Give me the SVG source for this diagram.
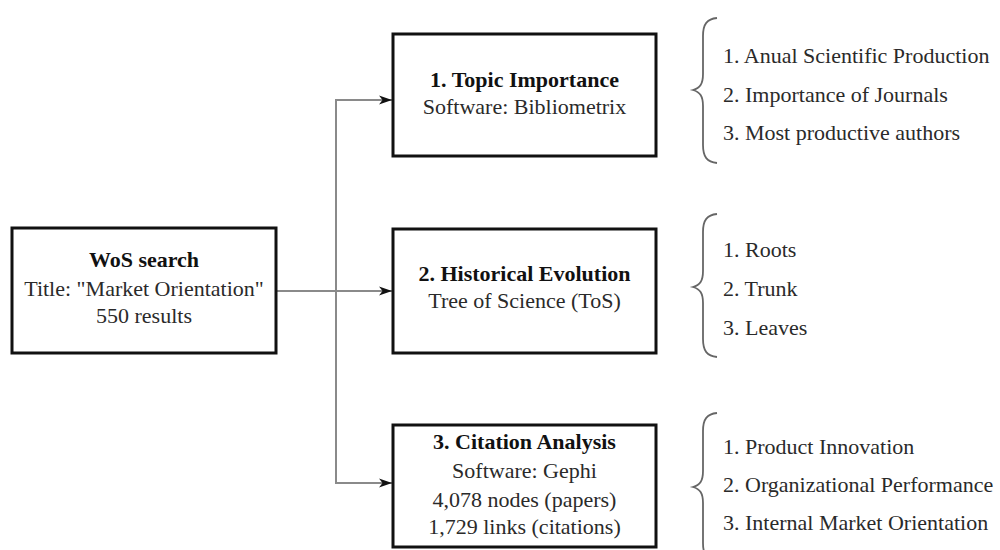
<svg xmlns="http://www.w3.org/2000/svg" width="1000" height="550" viewBox="0 0 1000 550">
<defs>
<style>
.box{fill:#fff;stroke:#111;stroke-width:3}
.t{font-family:"Liberation Serif","Times New Roman",serif;font-size:22px;fill:#2a2a2a}
.b{font-weight:bold;fill:#111}
.c{text-anchor:middle}
.conn{fill:none;stroke:#8a8a8a;stroke-width:2}
.brace{fill:none;stroke:#666;stroke-width:1.8}
</style>
<marker id="arr" markerWidth="14" markerHeight="12" refX="13" refY="6" orient="auto" markerUnits="userSpaceOnUse">
<path d="M0,1.5 L13,6 L0,10.5 L3.5,6 Z" fill="#111"/>
</marker>
</defs>
<rect width="1000" height="550" fill="#fff"/>
<g id="connectors">
<path class="conn" d="M276,291 L392,291" marker-end="url(#arr)"/>
<path class="conn" d="M336,291 L336,100 L392,100" marker-end="url(#arr)"/>
<path class="conn" d="M336,291 L336,483 L392,483" marker-end="url(#arr)"/>
</g>
<g id="wos">
<rect class="box" x="12" y="228" width="264" height="125"/>
<text class="t b c" x="144" y="267">WoS search</text>
<text class="t c" x="144" y="296">Title: "Market Orientation"</text>
<text class="t c" x="144" y="323">550 results</text>
</g>
<g id="topic">
<rect class="box" x="393" y="34" width="263" height="122"/>
<text class="t b c" x="524.5" y="87">1. Topic Importance</text>
<text class="t c" x="524.5" y="114">Software: Bibliometrix</text>
</g>
<g id="historical">
<rect class="box" x="393" y="229" width="263" height="124"/>
<text class="t b c" x="524.5" y="281">2. Historical Evolution</text>
<text class="t c" x="524.5" y="308">Tree of Science (ToS)</text>
</g>
<g id="citation">
<rect class="box" x="393" y="425" width="263" height="122"/>
<text class="t b c" x="524.5" y="449">3. Citation Analysis</text>
<text class="t c" x="524.5" y="478">Software: Gephi</text>
<text class="t c" x="524.5" y="507">4,078 nodes (papers)</text>
<text class="t c" x="524.5" y="534">1,729 links (citations)</text>
</g>
<g id="list1">
<path class="brace" d="M717,18 C707,19 703,24 703,36 L703,74 C703,84 700,88 693,90 C700,92 703,96 703,106 L703,145 C703,157 707,162 717,163"/>
<text class="t" x="723" y="63">1. Anual Scientific Production</text>
<text class="t" x="723" y="102">2. Importance of Journals</text>
<text class="t" x="723" y="140">3. Most productive authors</text>
</g>
<g id="list2">
<path class="brace" d="M717,214 C707,215 703,220 703,232 L703,271 C703,281 700,285 693,287 C700,289 703,293 703,303 L703,339 C703,351 707,356 717,357"/>
<text class="t" x="723" y="257">1. Roots</text>
<text class="t" x="723" y="296">2. Trunk</text>
<text class="t" x="723" y="335">3. Leaves</text>
</g>
<g id="list3">
<path class="brace" d="M717,413 C707,414 703,419 703,431 L703,471 C703,481 700,485 693,487 C700,489 703,493 703,503 L703,543 C703,555 707,560 717,561"/>
<text class="t" x="723" y="454">1. Product Innovation</text>
<text class="t" x="723" y="492">2. Organizational Performance</text>
<text class="t" x="723" y="530">3. Internal Market Orientation</text>
</g>
</svg>
